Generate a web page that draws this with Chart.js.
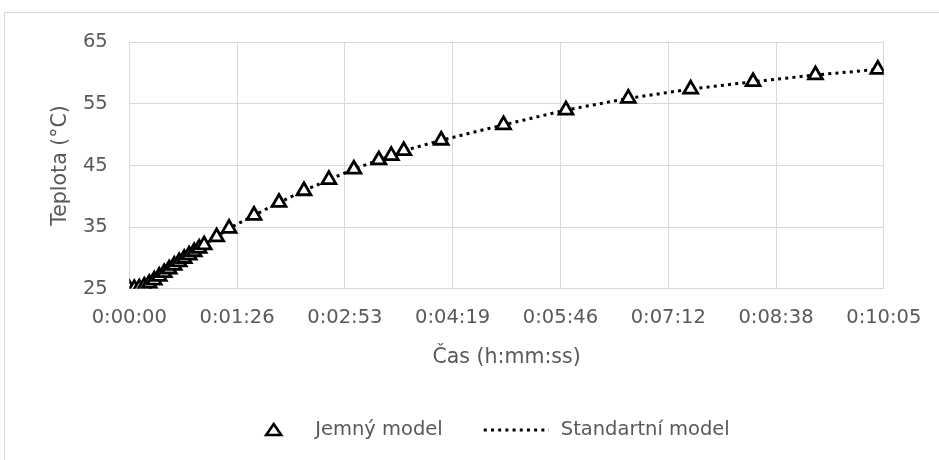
<!DOCTYPE html>
<html>
<head>
<meta charset="utf-8">
<script src="https://cdn.jsdelivr.net/npm/chart.js@4.4.1/dist/chart.umd.min.js"></script>
<style>
html,body{margin:0;padding:0;background:#fff;overflow:hidden;width:939px;height:460px;}
#frame{position:absolute;left:4px;top:12px;width:960px;height:480px;border-left:1px solid #d9d9d9;border-top:1px solid #d9d9d9;}
#c{position:absolute;left:0;top:0;}
</style>
</head>
<body>
<div id="frame"></div>
<canvas id="c" width="939" height="460"></canvas>
<script>
// ---- data ----
const seriesNames = ['Jemný model', 'Standartní model'];
const xTitle = 'Čas (h:mm:ss)';
const yTitle = 'Teplota (°C)';

// time in seconds
const fineTime = [0,4,8,12,16,20,24,28,32,36,40,44,48,52,56,60,70,80,100,120,140,160,180,200,210,220,250,300,350,400,450,500,550,600];
const fineTemp = [25.0,25.0,25.1,25.4,25.85,26.4,27.0,27.6,28.2,28.8,29.35,29.9,30.45,31.0,31.55,32.1,33.4,34.8,36.9,39.0,40.9,42.7,44.4,45.9,46.6,47.4,49.1,51.6,54.0,55.9,57.4,58.6,59.7,60.6];

const standardTime = [0,4,8,12,16,20,24,28,32,36,40,44,48,52,56,60,70,80,100,120,140,160,180,200,210,220,250,300,350,400,450,500,550,600];
const standardTemp = [25.0,25.0,25.1,25.4,25.85,26.4,27.0,27.6,28.2,28.8,29.35,29.9,30.45,31.0,31.55,32.1,33.4,34.8,36.9,39.0,40.9,42.7,44.4,45.9,46.6,47.4,49.1,51.6,54.0,55.9,57.4,58.6,59.7,60.6];

const xTickValues = [0, 86.4, 172.8, 259.2, 345.6, 432, 518.4, 604.8];
const xTickLabels = ['0:00:00','0:01:26','0:02:53','0:04:19','0:05:46','0:07:12','0:08:38','0:10:05'];
const yTicks = [25, 35, 45, 55, 65];

// ---- chart ----
const FONT = "'DejaVu Sans', sans-serif";
const TXT = '#595959';
const GRID = '#d9d9d9';
const DOT = [3, 4.2];

const toPts = (xs, ys) => xs.map((x, i) => ({x: x, y: ys[i]}));

// custom bottom legend (real canvas text)
const legendPlugin = {
  id: 'customLegend',
  afterDraw(chart) {
    const ctx = chart.ctx;
    const fontSize = 19.5;
    ctx.save();
    ctx.font = fontSize + "px 'DejaVu Sans', sans-serif";
    const w1 = ctx.measureText(seriesNames[0]).width;
    const w2 = ctx.measureText(seriesNames[1]).width;
    const triW = 15, gap1 = 34, gap2 = 41, lineW = 65, gap3 = 12;
    const total = triW + gap1 + w1 + gap2 + lineW + gap3 + w2;
    const cx = 498, cy = 430;
    let x = cx - total / 2;
    // triangle marker
    ctx.beginPath();
    ctx.moveTo(x + triW / 2, cy - 6);
    ctx.lineTo(x + triW, cy + 5);
    ctx.lineTo(x, cy + 5);
    ctx.closePath();
    ctx.fillStyle = '#fff';
    ctx.fill();
    ctx.lineWidth = 2.6;
    ctx.strokeStyle = '#000';
    ctx.lineJoin = 'miter';
    ctx.stroke();
    x += triW + gap1;
    ctx.fillStyle = TXT;
    ctx.textBaseline = 'middle';
    ctx.textAlign = 'left';
    ctx.fillText(seriesNames[0], x, cy);
    x += w1 + gap2;
    // dotted line sample
    ctx.beginPath();
    ctx.setLineDash(DOT);
    ctx.lineWidth = 3;
    ctx.lineCap = 'butt';
    ctx.moveTo(x, cy);
    ctx.lineTo(x + lineW, cy);
    ctx.stroke();
    ctx.setLineDash([]);
    x += lineW + gap3;
    ctx.fillText(seriesNames[1], x, cy);
    ctx.restore();
  }
};

new Chart(document.getElementById('c'), {
  type: 'scatter',
  data: {
    datasets: [
      {
        label: seriesNames[0],
        data: toPts(fineTime, fineTemp),
        showLine: false,
        pointStyle: 'triangle',
        pointRadius: 8,
        pointHoverRadius: 8,
        pointBorderWidth: 2.8,
        pointBorderColor: '#000',
        pointBackgroundColor: '#fff',
        order: 0
      },
      {
        label: seriesNames[1],
        data: toPts(standardTime, standardTemp),
        showLine: true,
        borderColor: '#000',
        borderWidth: 3,
        borderDash: DOT,
        borderCapStyle: 'butt',
        pointRadius: 0,
        pointHoverRadius: 0,
        fill: false,
        tension: 0,
        order: 1
      }
    ]
  },
  options: {
    responsive: false,
    animation: false,
    devicePixelRatio: 1,
    layout: { padding: { left: 48.7, right: 55, top: 42.3, bottom: 90.3 } },
    plugins: {
      tooltip: { enabled: false },
      legend: { display: false }
    },
    scales: {
      x: {
        type: 'linear',
        min: 0,
        max: 604.8,
        afterBuildTicks: (s) => { s.ticks = xTickValues.map(v => ({ value: v })); },
        afterFit: (s) => { s.height = 81; },
        grid: { color: GRID, lineWidth: 1, drawTicks: false },
        border: { color: GRID, width: 1 },
        ticks: {
          autoSkip: false,
          maxRotation: 0,
          padding: 17.6,
          color: TXT,
          font: { family: FONT, size: 19.5 },
          callback: (v, i) => xTickLabels[i]
        },
        title: { display: true, text: xTitle, color: TXT, font: { family: FONT, size: 20.5 }, padding: { top: 0, bottom: 0 } }
      },
      y: {
        min: 25,
        max: 65,
        afterBuildTicks: (s) => { s.ticks = yTicks.map(v => ({ value: v })); },
        afterFit: (s) => { s.width = 80.6; },
        grid: { color: GRID, lineWidth: 1, drawTicks: false },
        border: { color: GRID, width: 1 },
        ticks: {
          padding: 21.6,
          color: TXT,
          font: { family: FONT, size: 19.5 }
        },
        title: { display: true, text: yTitle, color: TXT, font: { family: FONT, size: 20.5 }, padding: { top: 0, bottom: 0 } }
      }
    }
  },
  plugins: [legendPlugin]
});
</script>
</body>
</html>
